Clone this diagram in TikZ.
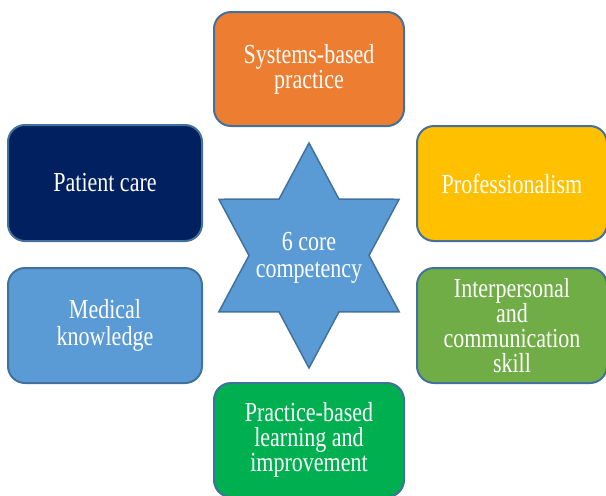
\documentclass[tikz,border=0pt]{standalone}
\usepackage{fontspec}
\setmainfont{Liberation Serif}[FakeStretch=0.8]
\definecolor{edgeblue}{HTML}{41719C}
\definecolor{orangebox}{HTML}{ED7D31}
\definecolor{navybox}{HTML}{002060}
\definecolor{goldbox}{HTML}{FFC000}
\definecolor{skybox}{HTML}{5B9BD5}
\definecolor{leafbox}{HTML}{70AD47}
\definecolor{greenbox}{HTML}{00B050}
\begin{document}
\begin{tikzpicture}[x=1pt,y=-1pt,
  compbox/.style={draw=edgeblue, line width=2pt, rounded corners=17pt,
    minimum width=190pt, minimum height=114pt, inner sep=2pt,
    text=white, align=center, font=\fontsize{27.5}{25}\selectfont},
  widetext/.style={font=\fontsize{27.5}{27}\selectfont}]
\useasboundingbox (0,0) rectangle (606,496);

% central six-pointed star
\draw[fill=skybox, draw=edgeblue, line width=1.5pt, line join=miter]
  (309,143) -- (339,199.2) -- (399.1,199.25) -- (369,255.5) -- (399.1,311.75)
  -- (339,311.8) -- (309,368) -- (279,311.8) -- (218.9,311.75) -- (249,255.5)
  -- (218.9,199.25) -- (279,199.2) -- cycle;
\node[text=white, align=center, widetext] (core) at (309,258)
  {6 core\\competency};

% the six competencies
\node[compbox, fill=orangebox] (systems) at (309,69) {Systems-based\\practice};
\node[compbox, fill=navybox, minimum width=194pt, minimum height=116pt] (patient) at (105,183) {Patient care};
\node[compbox, fill=goldbox, minimum height=115pt] (prof) at (512,183.5) {Professionalism};
\node[compbox, widetext, fill=skybox, minimum width=194pt, minimum height=115pt] (medical) at (105,325.5) {Medical\\knowledge};
\node[compbox, fill=leafbox, minimum height=115pt] (inter) at (512,325.5) {Interpersonal\\and\\communication\\skill};
\node[compbox, fill=greenbox] (pbl) at (309,440) {Practice-based\\learning and\\improvement};
\end{tikzpicture}
\end{document}
